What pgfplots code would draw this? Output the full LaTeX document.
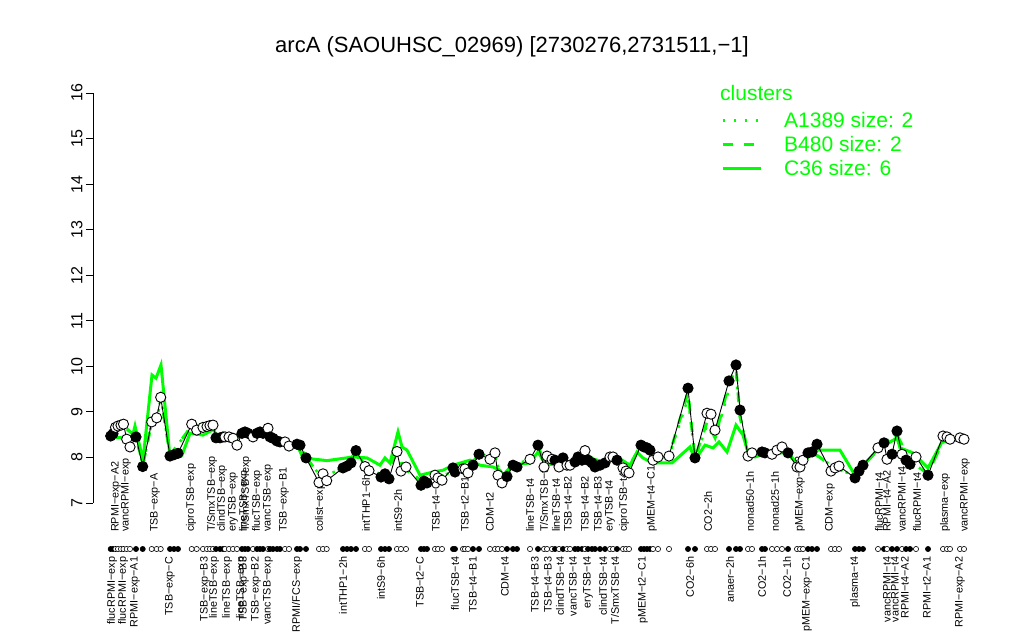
\documentclass[border=0pt]{standalone}
\usepackage{fontspec}
\setmainfont{Liberation Sans}
\usepackage{pgfplots}
\usepackage{pgfplotstable}
\pgfplotsset{compat=1.18}
\definecolor{rgreen}{RGB}{0,255,0}

% x = position along the condition axis, y = log2 expression, c = b/w point
\pgfplotstableread{
x y c
110.7 8.47 b
113 8.52 b
115.5 8.66 w
118 8.69 w
121 8.71 w
123.5 8.73 w
126.7 8.40 w
130 8.23 w
136 8.45 b
142.7 7.80 b
151.7 8.78 w
156.7 8.87 w
160.7 9.32 w
170 8.03 b
174 8.06 b
178 8.09 b
191.7 8.73 w
196.7 8.60 w
203 8.66 w
207 8.68 w
210 8.70 w
213 8.71 w
216 8.43 b
220 8.43 b
223 8.45 b
225 8.45 w
229 8.45 w
233 8.42 w
237 8.27 w
242 8.53 b
245 8.56 b
248 8.53 b
253 8.45 w
257 8.53 b
260 8.56 b
263 8.53 b
268 8.64 w
270 8.45 b
273 8.42 b
277 8.36 b
280 8.34 b
285 8.34 w
289 8.25 w
297 8.29 b
300 8.27 b
306 7.99 b
319 7.45 w
323 7.64 w
326.7 7.49 w
343 7.77 b
347 7.81 b
351 7.88 b
356 8.15 b
365 7.80 w
369 7.71 w
381 7.57 b
385 7.64 b
389 7.53 b
397 8.13 w
401 7.70 w
406 7.79 w
421 7.39 b
424 7.48 b
427 7.44 b
435 7.61 w
438 7.55 w
442 7.50 w
453 7.77 b
455 7.68 b
463 7.75 w
465 7.75 w
468 7.66 w
473 7.83 b
479 8.07 b
490 7.96 w
495 8.10 w
498 7.61 w
502 7.44 w
507 7.58 b
513 7.83 b
517 7.79 b
530 7.96 w
538 8.27 b
544 7.79 w
547 8.03 w
552 7.96 w
555 7.94 b
559 7.79 w
563 7.99 b
567 7.83 w
570 7.83 w
575 7.90 b
578 8.01 b
582 7.94 b
585 8.15 w
588 7.94 b
592 7.88 b
595 7.79 b
600 7.83 b
605 7.88 b
610 8.01 w
613 8.01 w
617 7.94 b
623 7.77 w
626 7.70 w
629 7.66 w
641 8.27 b
644 8.23 b
647 8.21 b
650 8.16 b
653 7.94 w
658 8.01 w
669 8.03 w
688 9.52 b
695 7.99 b
707 8.97 w
711 8.95 w
715 8.60 w
729 9.68 b
736 10.03 b
740 9.04 b
748 8.03 w
752 8.10 w
762 8.12 b
765 8.10 b
772 8.07 w
777 8.16 w
782 8.23 w
788 8.10 b
797 7.79 w
800 7.79 w
803 7.94 w
808 8.10 b
812 8.12 b
817 8.29 b
831 7.70 w
835 7.77 w
839 7.81 w
855 7.55 b
859 7.70 b
863 7.83 b
878 8.21 w
884 8.32 b
887 7.96 w
892 8.07 b
897 8.58 b
902 8.07 w
906 7.94 b
910 7.85 b
916 8.01 w
928 7.61 b
943 8.47 w
947 8.45 w
950 8.40 w
960 8.43 w
964 8.40 w
}\expr

\begin{document}
\begin{tikzpicture}
\begin{axis}[
  scale only axis,
  width=892pt, height=410pt,
  xmin=93, xmax=985,
  ymin=7, ymax=16,
  clip=false,
  axis x line=none,
  axis y line*=left,
  axis line style={-, line width=0.8pt},
  ytick={7,8,...,16},
  tick align=outside,
  major tick length=7pt,
  every tick/.style={black, line width=0.8pt},
  /pgf/number format/assume math mode=true,
  yticklabel style={rotate=90, anchor=south, font=\fontsize{16}{16}\selectfont},
  legend style={at={(axis cs:721,15.62)}, anchor=north west, draw=none, fill=none,
    font=\fontsize{21}{24}\selectfont, text=rgreen, legend cell align=left,
    row sep=4.5pt, inner sep=0pt, nodes={inner sep=1.5pt}},
  legend image code/.code={\draw[#1] (0pt,0pt) -- (38pt,0pt); \path[draw=none, fill=none] (0pt,-1pt) rectangle (60pt,1pt);},
]
% cluster lines
\addplot[rgreen, line width=2.6pt, dash pattern=on 2.6pt off 8.4pt] coordinates {
  (110,8.5)(123,8.7)(136,8.45)(143,7.82)(152,8.8)(157,8.85)(161,9.3)(170,8.05)
  (192,8.7)(203,8.68)(216,8.43)(230,8.45)(245,8.55)(260,8.55)(270,8.45)(287,8.3)
  (300,8.27)(306,8.0)(322,7.55)(347,7.82)(356,8.15)(367,7.75)(385,7.6)(397,8.1)
  (404,7.75)(424,7.45)(438,7.55)(455,7.72)(466,7.75)(479,8.05)(495,8.05)(502,7.5)
  (513,7.83)(530,7.96)(538,8.25)(545,7.85)(560,7.85)(575,7.95)(585,8.1)(600,7.85)
  (613,8.0)(626,7.7)(641,8.25)(655,7.97)(669,8.03)(688,9.3)(695,7.99)(707,8.7)
  (715,8.4)(729,9.5)(736,9.8)(740,8.9)(749,8.03)(765,8.1)(782,8.2)(800,7.82)
  (812,8.12)(835,7.77)(855,7.6)(863,7.83)(884,8.3)(897,8.5)(910,7.9)(928,7.65)
  (945,8.45)(964,8.4)};
\addlegendentry{A1389 size: 2}
\addplot[rgreen, line width=3pt, dash pattern=on 10pt off 11pt] coordinates {
  (110,8.5)(123,8.7)(136,8.45)(143,7.85)(152,8.8)(157,8.85)(161,9.3)(170,8.05)
  (192,8.7)(203,8.68)(216,8.43)(230,8.45)(245,8.55)(260,8.55)(270,8.45)(287,8.3)
  (300,8.27)(306,8.0)(322,7.55)(347,7.82)(356,8.15)(367,7.75)(385,7.6)(397,8.1)
  (404,7.75)(424,7.45)(438,7.55)(455,7.72)(466,7.75)(479,8.05)(495,8.05)(502,7.5)
  (513,7.83)(530,7.96)(538,8.25)(545,7.85)(560,7.85)(575,7.95)(585,8.1)(600,7.85)
  (613,8.0)(626,7.7)(641,8.25)(655,7.97)(669,8.03)(688,9.43)(695,7.99)(707,8.78)
  (715,8.43)(729,9.63)(736,9.96)(740,8.89)(749,8.03)(765,8.1)(782,8.2)(800,7.82)
  (812,8.12)(835,7.77)(855,7.6)(863,7.83)(884,8.3)(897,8.5)(910,7.9)(928,7.65)
  (945,8.45)(964,8.4)};
\addlegendentry{B480 size: 2}
\addplot[rgreen, line width=3pt] coordinates {
  (110,8.45)(123,8.43)(132,8.43)(135,8.69)(143,7.94)(152,9.81)(156,9.74)(161,10.03)
  (170,8.01)(182,8.05)(190,8.53)(203,8.49)(214,8.62)(216,8.45)(230,8.38)(247,8.53)
  (270,8.45)(285,8.34)(298,8.23)(303,7.99)(327,7.93)(353,8.01)(367,7.99)(380,7.83)
  (385,7.99)(390,7.88)(398,8.56)(402,8.23)(407,8.16)(420,7.61)(433,7.68)(443,7.72)
  (453,7.83)(470,7.94)(480,7.83)(493,7.79)(500,7.72)(503,7.61)(512,7.83)(530,7.88)
  (538,8.12)(543,7.94)(553,7.94)(570,7.90)(587,8.01)(603,7.90)(617,8.01)(630,7.83)
  (637,8.12)(643,7.99)(652,7.88)(672,7.88)(690,8.23)(695,7.94)(705,8.27)(713,8.21)
  (719,8.34)(727,8.12)(736,8.71)(743,8.49)(749,8.03)(755,8.01)(767,8.10)(788,8.10)
  (798,7.83)(817,8.16)(840,8.16)(855,7.61)(877,8.16)(897,8.43)(900,8.21)(913,8.10)
  (928,7.77)(942,8.34)(964,8.40)};
\addlegendentry{C36 size: 6}
% expression values
\addplot[black, line width=0.9pt, forget plot] table[x=x, y=y] {\expr};
\addplot[scatter, only marks, scatter src=explicit symbolic, forget plot,
  scatter/classes={b={mark=*, draw=black, fill=black}, w={mark=*, draw=black, fill=white}},
  mark size=5.1pt, line width=0.9pt] table[x=x, y=y, meta=c] {\expr};
% rug of conditions
\addplot[scatter, only marks, scatter src=explicit symbolic, forget plot,
  scatter/classes={b={mark=*, draw=black, fill=black}, w={mark=*, draw=black, fill=white}},
  mark size=2.6pt, line width=0.6pt] table[x=x, y expr=5.99, meta=c] {\expr};

\node[text=rgreen, anchor=west, inner sep=0pt, font=\fontsize{21}{24}\selectfont] at (axis cs:720,16.0) {clusters};
\node[font=\fontsize{22}{24}\selectfont] at (axis cs:512,17.01) {arcA (SAOUHSC\_02969) [2730276,2731511,−1]};

% labels above the rug
\begin{scope}[every node/.style={rotate=90, anchor=west, inner sep=0pt, font=\fontsize{10.8}{11}\selectfont}]
\node at (axis cs:116,6.36) {RPMI−exp−A2};
\node at (axis cs:126,6.36) {vancRPMI−exp};
\node at (axis cs:155,6.36) {TSB−exp−A};
\node at (axis cs:191,6.36) {ciproTSB−exp};
\node at (axis cs:212,6.36) {T/SmxTSB−exp};
\node at (axis cs:222,6.36) {clindTSB−exp};
\node at (axis cs:233,6.36) {eryTSB−exp};
\node at (axis cs:244,6.36) {lineTSB−exp};
\node at (axis cs:246,6.36) {T/SmxTSB−exp};
\node at (axis cs:257,6.36) {flucTSB−exp};
\node at (axis cs:268,6.36) {vancTSB−exp};
\node at (axis cs:284,6.36) {TSB−exp−B1};
\node at (axis cs:320,6.36) {colist−exp};
\node at (axis cs:366,6.36) {intTHP1−6h};
\node at (axis cs:398,6.36) {intS9−2h};
\node at (axis cs:436,6.36) {TSB−t4−C};
\node at (axis cs:465,6.36) {TSB−t2−B1};
\node at (axis cs:490,6.36) {CDM−t2};
\node at (axis cs:530,6.36) {lineTSB−t4};
\node at (axis cs:544,6.36) {T/SmxTSB−t4};
\node at (axis cs:556,6.36) {lineTSB−t4};
\node at (axis cs:568,6.36) {TSB−t4−B2};
\node at (axis cs:585,6.36) {TSB−t4−B2};
\node at (axis cs:598,6.36) {TSB−t4−B3};
\node at (axis cs:610,6.36) {eryTSB−t4};
\node at (axis cs:624,6.36) {ciproTSB−t4};
\node at (axis cs:652,6.36) {pMEM−t4−C1};
\node at (axis cs:708,6.36) {CO2−2h};
\node at (axis cs:750,6.36) {nonad50−1h};
\node at (axis cs:775,6.36) {nonad25−1h};
\node at (axis cs:800,6.36) {pMEM−exp−C2};
\node at (axis cs:830,6.36) {CDM−exp};
\node at (axis cs:879,6.36) {flucRPMI−t4};
\node at (axis cs:887,6.36) {RPMI−t4−A2};
\node at (axis cs:902,6.36) {vancRPMI−t4};
\node at (axis cs:917,6.36) {flucRPMI−t4};
\node at (axis cs:945,6.36) {plasma−exp};
\node at (axis cs:965,6.36) {vancRPMI−exp};
\end{scope}
% labels below the rug
\begin{scope}[every node/.style={rotate=90, anchor=east, inner sep=0pt, font=\fontsize{10.8}{11}\selectfont}]
\node at (axis cs:112,5.82) {flucRPMI−exp};
\node at (axis cs:123,5.82) {flucRPMI−exp};
\node at (axis cs:135,5.82) {RPMI−exp−A1};
\node at (axis cs:170,5.82) {TSB−exp−C};
\node at (axis cs:205,5.82) {TSB−exp−B3};
\node at (axis cs:214,5.82) {lineTSB−exp};
\node at (axis cs:227,5.82) {lineTSB−exp};
\node at (axis cs:241,5.82) {lineTSB−exp};
\node at (axis cs:244,5.82) {TSB−exp−B3};
\node at (axis cs:256,5.82) {TSB−exp−B2};
\node at (axis cs:268,5.82) {vancTSB−exp};
\node at (axis cs:297,5.82) {RPMI/FCS−exp};
\node at (axis cs:343,5.82) {intTHP1−2h};
\node at (axis cs:381,5.82) {intS9−6h};
\node at (axis cs:420,5.82) {TSB−t2−C};
\node at (axis cs:455,5.82) {flucTSB−t4};
\node at (axis cs:473,5.82) {TSB−t4−B1};
\node at (axis cs:505,5.82) {CDM−t4};
\node at (axis cs:535,5.82) {TSB−t4−B3};
\node at (axis cs:548,5.82) {TSB−t4−B3};
\node at (axis cs:560,5.82) {clindTSB−t4};
\node at (axis cs:573,5.82) {vancTSB−t4};
\node at (axis cs:588,5.82) {eryTSB−t4};
\node at (axis cs:603,5.82) {clindTSB−t4};
\node at (axis cs:615,5.82) {T/SmxTSB−t4};
\node at (axis cs:643,5.82) {pMEM−t2−C1};
\node at (axis cs:690,5.82) {CO2−6h};
\node at (axis cs:730,5.82) {anaer−2h};
\node at (axis cs:762,5.82) {CO2−1h};
\node at (axis cs:787,5.82) {CO2−1h};
\node at (axis cs:807,5.82) {pMEM−exp−C1};
\node at (axis cs:855,5.82) {plasma−t4};
\node at (axis cs:887,5.82) {vancRPMI−t4};
\node at (axis cs:895,5.82) {vancRPMI−t4};
\node at (axis cs:905,5.82) {RPMI−t4−A2};
\node at (axis cs:927,5.82) {RPMI−t2−A1};
\node at (axis cs:960,5.82) {RPMI−exp−A2};
\end{scope}
\end{axis}
\pgfresetboundingbox
\path ([shift={(-93pt,-137pt)}]current axis.south west) rectangle ([shift={(39pt,93pt)}]current axis.north east);
\end{tikzpicture}
\end{document}
